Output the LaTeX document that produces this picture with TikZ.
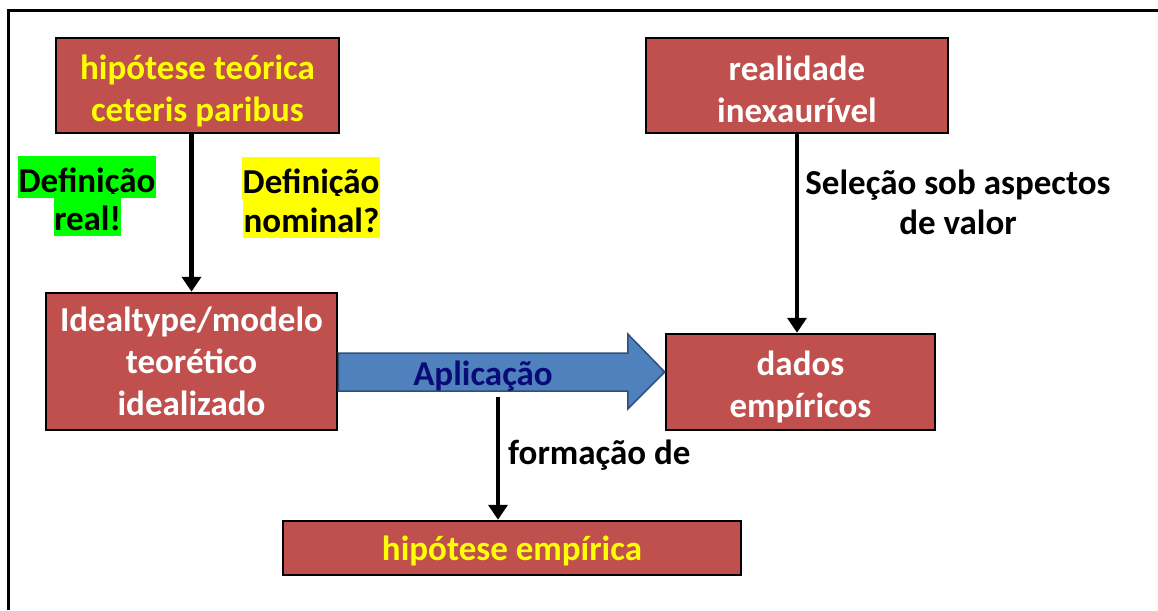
\documentclass[tikz,border=0pt]{standalone}
\usepackage{fontspec}
\setmainfont{Carlito}
\usetikzlibrary{arrows.meta,calc}
\definecolor{boxred}{HTML}{C0504D}
\definecolor{hlyellow}{HTML}{FFFF00}
\definecolor{hlgreen}{HTML}{00FF00}
\definecolor{arrblue}{HTML}{4F81BD}
\definecolor{arrline}{HTML}{2F4F7A}
\definecolor{navytext}{HTML}{0A0A78}
\newcommand{\lowerby}[1]{\rule{0pt}{#1}}
\tikzset{
  redbox/.style={draw=black, line width=2.5pt, fill=boxred, font=\bfseries\fontsize{35}{42}\selectfont, align=center, inner sep=0pt},
  lbl/.style={font=\bfseries\fontsize{35}{40}\selectfont, text=black, inner sep=0pt},
  hl/.style={font=\bfseries\fontsize{35}{40}\selectfont, text=black, inner xsep=0.5pt, inner ysep=0pt, text height=36pt, text depth=6pt, anchor=base},
  conn/.style={line width=4.5pt, -{Triangle[width=19pt,length=15pt]}},
  blockarrow/.style={fill=arrblue, draw=arrline, line width=1.5pt, line join=miter}
}
\begin{document}
\begin{tikzpicture}[x=1pt,y=-1pt]
\useasboundingbox (0,0) rectangle (1158,610);
% frame
\coordinate (fa) at (8,610);
\coordinate (fb) at (8,10.5);
\coordinate (fc) at (1158,10.5);
\draw[line width=3pt] (fa) -- (fb) -- (fc);
% boxes
\node[redbox, text=hlyellow, minimum width=283pt, minimum height=95pt] (hteo) at (197.5,85.5) {\lowerby{35pt}hipótese teórica\\ceteris paribus};
\node[redbox, text=white, minimum width=302pt, minimum height=95pt] (real) at (797,85.5) {\lowerby{32pt}realidade\\inexaurível};
\node[redbox, text=white, minimum width=291pt, minimum height=137pt] (ideal) at (191.5,361.5) {Idealtype/modelo\\teorético\\idealizado};
\node[redbox, text=white, minimum width=269pt, minimum height=96pt] (dados) at (800.5,382) {\lowerby{35pt}dados\\empíricos};
\node[redbox, text=hlyellow, minimum width=458pt, minimum height=54pt] (hemp) at (512,548) {\lowerby{30pt}hipótese empírica};
% highlighted labels
\node[hl, fill=hlgreen] (dr1) at (87,192) {Definição};
\node[hl, fill=hlgreen] (dr2) at (87.5,230) {real!};
\node[hl, fill=hlyellow, anchor=base west] (dn1) at (242,193) {Definição\ };
\node[hl, fill=hlyellow, anchor=base west] (dn2) at (243,232) {nominal?};
% connectors
\draw[conn] (ideal.north |- hteo.south) -- (ideal.north);
\draw[conn] (real.south) -- (real.south |- dados.north);
\node[lbl, align=center] (sel) at (958,202) {Seleção sob aspectos\\de valor};
% block arrow
\coordinate (bs) at ($(ideal.east)+(0,10.5)$);
\coordinate (bt) at ($(dados.west)+(0,-10)$);
\draw[blockarrow] ($(bs)+(0,-19)$) -- ($(bt)+(-37,-19)$) -- ($(bt)+(-37,-38)$) -- (bt) -- ($(bt)+(-37,37)$) -- ($(bt)+(-37,19)$) -- ($(bs)+(0,19)$) -- cycle;
\node[font=\bfseries\fontsize{35}{40}\selectfont, text=navytext, inner sep=0pt] (apl) at (483,376) {Aplicação};
\coordinate (fstart) at (498,397);
\draw[conn] (fstart) -- (fstart |- hemp.north);
\node[lbl, anchor=west] (form) at (508,455) {formação de};
\end{tikzpicture}
\end{document}
